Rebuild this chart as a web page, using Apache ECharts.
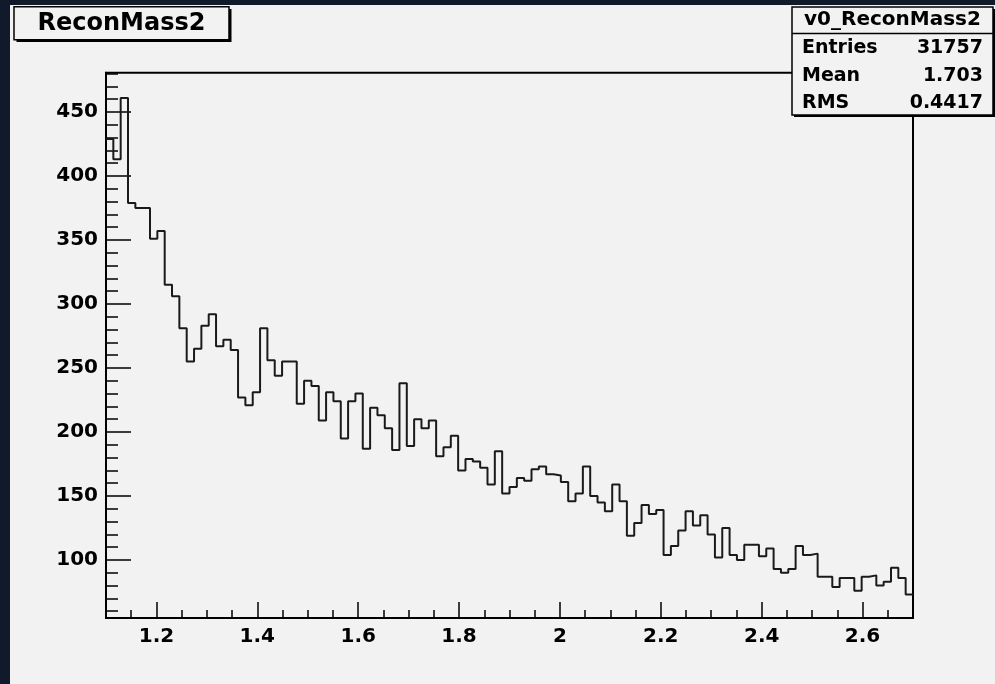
<!DOCTYPE html>
<html>
<head>
<meta charset="utf-8">
<script src="https://cdn.jsdelivr.net/npm/echarts@6/dist/echarts.min.js"></script>
<style>
  html, body { margin: 0; padding: 0; background: #101a2a; }
  #chart { width: 995px; height: 684px; }
</style>
</head>
<body>
<div id="chart"></div>
<script>
// ---- data ----
const histTitle = 'ReconMass2';
const statsName = 'v0_ReconMass2';
const statsLabels = ['Entries', 'Mean', 'RMS'];
const statsValues = ['31757', '1.703', '0.4417'];
const xMin = 1.1;
const xMax = 2.7;
const yMin = 54.7;
const yMax = 480.7;
const xTickValues = [1.2, 1.4, 1.6, 1.8, 2.0, 2.2, 2.4, 2.6];
const xTickLabels = ['1.2', '1.4', '1.6', '1.8', '2', '2.2', '2.4', '2.6'];
const yTickValues = [100, 150, 200, 250, 300, 350, 400, 450];
const yTickLabels = ['100', '150', '200', '250', '300', '350', '400', '450'];
const binCounts = [
  429, 413, 461, 379, 375, 375, 351, 357, 315, 306,
  281, 255, 265, 283, 292, 267, 272, 264, 227, 221,
  231, 281, 256, 244, 255, 255, 222, 240, 236, 209,
  231, 224, 195, 224, 230, 187, 219, 213, 203, 186,
  238, 189, 210, 203, 209, 181, 188, 197, 170, 179,
  177, 172, 159, 185, 152, 157, 164, 162, 171, 173,
  167, 166, 161, 146, 152, 173, 150, 145, 138, 159,
  146, 119, 129, 143, 136, 139, 104, 111, 123, 138,
  127, 135, 120, 102, 125, 104, 100, 112, 112, 103,
  109, 93, 90, 93, 111, 104, 105, 87, 87, 79,
  86, 86, 76, 87, 88, 80, 83, 94, 86, 73
];

// ---- minor tick positions (axis decoration) ----
const xMinorTicks = [];
for (let k = 23; k <= 53; k++) { if (k % 4 !== 0) xMinorTicks.push(Math.round(k * 5) / 100); }
const yMinorTicks = [];
for (let v = 60; v <= 480; v += 10) { if (v % 50 !== 0) yMinorTicks.push(v); }

// ---- build step data from bin edges ----
const binWidth = (xMax - xMin) / binCounts.length;
const stepData = binCounts.map((v, i) => [xMin + i * binWidth, v]);
stepData.push([xMax, binCounts[binCounts.length - 1]]);

const FONT = 'DejaVu Sans';
const chart = echarts.init(document.getElementById('chart'), null, { renderer: 'canvas' });

const labelOf = (vals, labs) => (v) => {
  for (let i = 0; i < vals.length; i++) if (Math.abs(vals[i] - v) < 1e-6) return labs[i];
  return '';
};

const statsGraphics = [];
const boxL = 792, boxR = 993, boxT = 7, boxB = 115;
statsGraphics.push({ type: 'rect', shape: { x: boxL + 2, y: boxT + 2, width: boxR - boxL, height: boxB - boxT }, style: { fill: '#000' }, z: 100 });
statsGraphics.push({ type: 'rect', shape: { x: boxL, y: boxT, width: boxR - boxL, height: boxB - boxT }, style: { fill: '#f2f2f2', stroke: '#000', lineWidth: 1.5 }, z: 101 });
statsGraphics.push({ type: 'line', shape: { x1: boxL, y1: 33.5, x2: boxR, y2: 33.5 }, style: { stroke: '#000', lineWidth: 1.5 }, z: 102 });
statsGraphics.push({ type: 'text', x: (boxL + boxR) / 2, y: 20, style: { text: statsName, font: 'bold 20px "' + FONT + '"', fill: '#000', align: 'center', verticalAlign: 'middle' }, z: 103 });
const rowY = [48, 76, 103];
statsLabels.forEach((lab, i) => {
  statsGraphics.push({ type: 'text', x: 802, y: rowY[i], style: { text: lab, font: 'bold 19px "' + FONT + '"', fill: '#000', align: 'left', verticalAlign: 'middle' }, z: 103 });
  statsGraphics.push({ type: 'text', x: 983, y: rowY[i], style: { text: statsValues[i], font: 'bold 19px "' + FONT + '"', fill: '#000', align: 'right', verticalAlign: 'middle' }, z: 103 });
});

const tickStyle = { color: '#000', width: 1.5 };

const option = {
  backgroundColor: '#101a2a',
  animation: false,
  grid: {
    left: 106, top: 72.7, width: 807, height: 545.3,
    show: true, backgroundColor: 'transparent', borderColor: '#000', borderWidth: 2
  },
  xAxis: [{
    type: 'value', min: xMin, max: xMax, position: 'bottom',
    axisLine: { show: true, onZero: false, lineStyle: { color: '#000', width: 2 } },
    axisTick: { show: true, inside: true, length: 16, lineStyle: tickStyle, customValues: xTickValues },
    splitLine: { show: false },
    axisLabel: { show: true, margin: 9, color: '#000', fontFamily: FONT, fontWeight: 'bold', fontSize: 20,
      customValues: xTickValues, formatter: labelOf(xTickValues, xTickLabels) }
  }, {
    type: 'value', min: xMin, max: xMax, position: 'bottom',
    axisLine: { show: false, onZero: false },
    axisTick: { show: true, inside: true, length: 8, lineStyle: tickStyle, customValues: xMinorTicks },
    splitLine: { show: false },
    axisLabel: { show: false }
  }],
  yAxis: [{
    type: 'value', min: yMin, max: yMax, position: 'left',
    axisLine: { show: true, onZero: false, lineStyle: { color: '#000', width: 2 } },
    axisTick: { show: true, inside: true, length: 25, lineStyle: tickStyle, customValues: yTickValues },
    splitLine: { show: false },
    axisLabel: { show: true, margin: 8, color: '#000', fontFamily: FONT, fontWeight: 'bold', fontSize: 20,
      customValues: yTickValues, formatter: labelOf(yTickValues, yTickLabels) }
  }, {
    type: 'value', min: yMin, max: yMax, position: 'left',
    axisLine: { show: false, onZero: false },
    axisTick: { show: true, inside: true, length: 12, lineStyle: tickStyle, customValues: yMinorTicks },
    splitLine: { show: false },
    axisLabel: { show: false }
  }],
  series: [{
    type: 'line', step: 'end', data: stepData, showSymbol: false, clip: true,
    xAxisIndex: 0, yAxisIndex: 0,
    lineStyle: { color: '#1a1a1a', width: 2 }, z: 5
  }],
  graphic: [
    { type: 'rect', shape: { x: 10, y: 5, width: 985, height: 679 }, style: { fill: '#f2f2f2' }, z: -10, silent: true },
    { type: 'rect', shape: { x: 16.5, y: 9, width: 215, height: 33 }, style: { fill: '#000' }, z: 100 },
    { type: 'rect', shape: { x: 14, y: 6.7, width: 215, height: 33 }, style: { fill: '#f2f2f2', stroke: '#000', lineWidth: 1.5 }, z: 101 },
    { type: 'text', x: 121.5, y: 23.5, style: { text: histTitle, font: 'bold 24px "' + FONT + '"', fill: '#000', align: 'center', verticalAlign: 'middle' }, z: 102 }
  ].concat(statsGraphics)
};
chart.setOption(option);
</script>
</body>
</html>
